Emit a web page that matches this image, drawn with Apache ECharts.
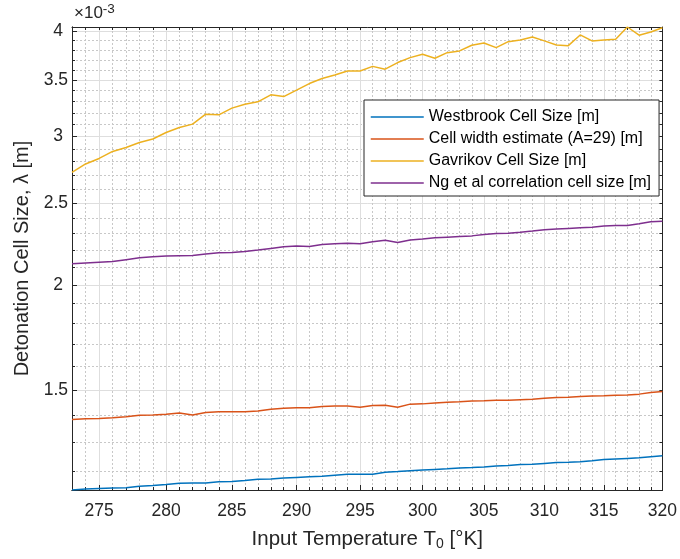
<!DOCTYPE html>
<html>
<head>
<meta charset="utf-8">
<title>Detonation cell size vs input temperature</title>
<script src="https://cdn.jsdelivr.net/npm/echarts@6/dist/echarts.min.js"></script>
<style>
  html, body { margin: 0; padding: 0; background: #fff; }
  #chart { width: 680px; height: 559px; }
</style>
</head>
<body>
<div id="chart"></div>
<script>
// input temperature T0 [K]
var temps = [273, 274, 275, 276, 277, 278, 279, 280, 281, 282, 283, 284, 285, 286, 287, 288,
             289, 290, 291, 292, 293, 294, 295, 296, 297, 298, 299, 300, 301, 302, 303, 304,
             305, 306, 307, 308, 309, 310, 311, 312, 313, 314, 315, 316, 317, 318, 319, 320];

// cell sizes, in units of 1e-3 m (axis shows x10^-3)
var westbrook = [1.141, 1.144, 1.146, 1.147, 1.148, 1.153, 1.155, 1.158, 1.162, 1.163, 1.163, 1.167,
                 1.168, 1.171, 1.175, 1.176, 1.179, 1.181, 1.183, 1.185, 1.188, 1.191, 1.191, 1.191,
                 1.198, 1.200, 1.203, 1.205, 1.207, 1.209, 1.212, 1.213, 1.215, 1.218, 1.220, 1.223,
                 1.224, 1.227, 1.230, 1.231, 1.233, 1.236, 1.240, 1.242, 1.244, 1.246, 1.250, 1.253];
var cellWidth = [1.384, 1.386, 1.387, 1.390, 1.394, 1.400, 1.401, 1.404, 1.408, 1.401, 1.410, 1.413,
                 1.413, 1.413, 1.416, 1.423, 1.427, 1.429, 1.429, 1.434, 1.436, 1.436, 1.431, 1.438,
                 1.439, 1.431, 1.443, 1.444, 1.447, 1.450, 1.452, 1.455, 1.456, 1.458, 1.458, 1.460,
                 1.462, 1.466, 1.469, 1.470, 1.473, 1.475, 1.476, 1.478, 1.479, 1.483, 1.490, 1.494];
var gavrikov = [2.720, 2.783, 2.825, 2.880, 2.911, 2.951, 2.979, 3.033, 3.075, 3.103, 3.189, 3.183,
                3.242, 3.277, 3.298, 3.362, 3.346, 3.405, 3.467, 3.515, 3.550, 3.589, 3.589, 3.634,
                3.606, 3.672, 3.722, 3.757, 3.716, 3.773, 3.791, 3.850, 3.874, 3.825, 3.888, 3.906,
                3.938, 3.896, 3.853, 3.846, 3.960, 3.896, 3.906, 3.914, 4.047, 3.957, 3.992, 4.039];
var ngCorr = [2.118, 2.123, 2.127, 2.131, 2.142, 2.153, 2.159, 2.163, 2.165, 2.167, 2.175, 2.183,
              2.185, 2.191, 2.199, 2.209, 2.219, 2.223, 2.221, 2.233, 2.237, 2.241, 2.237, 2.249,
              2.259, 2.245, 2.261, 2.267, 2.274, 2.278, 2.282, 2.286, 2.295, 2.301, 2.303, 2.309,
              2.316, 2.324, 2.329, 2.333, 2.337, 2.341, 2.348, 2.352, 2.352, 2.363, 2.376, 2.380];

var seriesNames = ['Westbrook Cell Size [m]', 'Cell width estimate (A=29) [m]',
                   'Gavrikov Cell Size [m]', 'Ng et al correlation cell size [m]'];
var seriesColors = ['#0072BD', '#D95319', '#EDB120', '#7E2F8E'];

// tick positions
var xMajor = [275, 280, 285, 290, 295, 300, 305, 310, 315, 320];
var yMajor = [1.5, 2, 2.5, 3, 3.5, 4];
var yMinor = [1.2, 1.3, 1.4, 1.6, 1.7, 1.8, 1.9, 2.1, 2.2, 2.3, 2.4, 2.6, 2.7, 2.8, 2.9,
              3.1, 3.2, 3.3, 3.4, 3.6, 3.7, 3.8, 3.9];

var xMinor = [], xAll = [];
for (var t = 273; t <= 320; t++) {
    xAll.push(t);
    if (t % 5 !== 0) xMinor.push(t);
}
var yAll = yMinor.concat(yMajor);

var FONT = "'Liberation Sans', Arial, sans-serif";
var INK = '#262626';

var xMin = temps[0], xMax = temps[temps.length - 1];
var yMin = Math.min.apply(null, westbrook), yMax = Math.max.apply(null, gavrikov);

function pairs(vals) {
    return temps.map(function(t, i) { return [t, vals[i]]; });
}

function baseAxis(pos, min, max) {
    return {
        type: 'log', logBase: 10, position: pos, min: min, max: max,
        axisLine: { show: true, onZero: false, lineStyle: { color: INK, width: 1 } },
        axisTick: { show: false },
        axisLabel: { show: false },
        splitLine: { show: false }
    };
}

// bottom: major ticks + labels + solid grid
var xA = baseAxis('bottom', xMin, xMax);
xA.axisTick = { show: true, inside: true, length: 5, lineStyle: { color: INK }, customValues: xMajor };
xA.axisLabel = { show: true, margin: 12, color: INK, fontSize: 17.5, fontFamily: FONT, customValues: xMajor };
xA.splitLine = { show: true, lineStyle: { color: '#dedede', width: 1 } };
xA.name = 'Input Temperature T{sub|0} [°K]';
xA.nameLocation = 'middle';
xA.nameGap = 37;
xA.nameTextStyle = {
    color: INK, fontSize: 20.5, fontFamily: FONT,
    rich: { sub: { fontSize: 14, fontFamily: FONT, color: INK, padding: [10, 0, 0, 0] } }
};
// bottom: minor ticks + dotted grid
var xB = baseAxis('bottom', xMin, xMax);
xB.axisTick = { show: true, inside: true, length: 3, lineStyle: { color: INK }, customValues: xMinor };
xB.splitLine = { show: true, lineStyle: { color: '#c8c8c8', width: 1, type: [2, 2] } };
// top: all ticks
var xC = baseAxis('top', xMin, xMax);
xC.axisTick = { show: true, inside: true, length: 3, lineStyle: { color: INK }, customValues: xAll };

var yA = baseAxis('left', yMin, yMax);
yA.axisTick = { show: true, inside: true, length: 5, lineStyle: { color: INK }, customValues: yMajor };
yA.axisLabel = {
    show: true, margin: 4, color: INK, fontSize: 17.5, fontFamily: FONT, customValues: yMajor,
    formatter: function(v) {
        var s = String(+v.toFixed(1));
        return s.indexOf('.') < 0 ? '{i|' + s + '}' : s;
    },
    rich: { i: { fontSize: 17.5, fontFamily: FONT, color: INK, padding: [0, 5, 0, 0] } }
};
yA.splitLine = { show: true, lineStyle: { color: '#dedede', width: 1 } };
yA.name = 'Detonation Cell Size, λ [m]';
yA.nameLocation = 'middle';
yA.nameGap = 40;
yA.nameTextStyle = { color: INK, fontSize: 20, fontFamily: FONT };
var yB = baseAxis('left', yMin, yMax);
yB.axisTick = { show: true, inside: true, length: 3, lineStyle: { color: INK }, customValues: yMinor };
yB.splitLine = { show: true, lineStyle: { color: '#c8c8c8', width: 1, type: [2, 2] } };
var yC = baseAxis('right', yMin, yMax);
yC.axisTick = { show: true, inside: true, length: 3, lineStyle: { color: INK }, customValues: yAll };

var allSeries = [westbrook, cellWidth, gavrikov, ngCorr].map(function(vals, i) {
    return {
        name: seriesNames[i],
        type: 'line',
        data: pairs(vals),
        symbol: 'none',
        smooth: false,
        color: seriesColors[i],
        lineStyle: { width: 1.5, color: seriesColors[i] },
        z: 3
    };
});

var chart = echarts.init(document.getElementById('chart'), null, { renderer: 'canvas' });
chart.setOption({
    animation: false,
    backgroundColor: '#fff',
    grid: { left: 72, right: 16, top: 27, bottom: 69, containLabel: false },
    xAxis: [xA, xB, xC],
    yAxis: [yA, yB, yC],
    legend: {
        orient: 'vertical',
        left: 364,
        top: 100,
        itemWidth: 53,
        itemHeight: 14,
        itemGap: 6,
        padding: [9, 8, 5, 6],
        borderColor: INK,
        borderWidth: 1,
        backgroundColor: '#fff',
        itemStyle: { opacity: 0 },
        lineStyle: { width: 1.5 },
        textStyle: { color: '#000', fontSize: 16, fontFamily: FONT },
        data: seriesNames
    },
    graphic: [{
        type: 'text',
        left: 74,
        top: 2,
        style: {
            text: '×10{sup|-3}',
            fill: INK,
            fontSize: 17,
            fontFamily: FONT,
            rich: { sup: { fontSize: 13.5, fontFamily: FONT, fill: INK, padding: [0, 0, 9, 0] } }
        }
    }],
    series: allSeries
});
</script>
</body>
</html>
